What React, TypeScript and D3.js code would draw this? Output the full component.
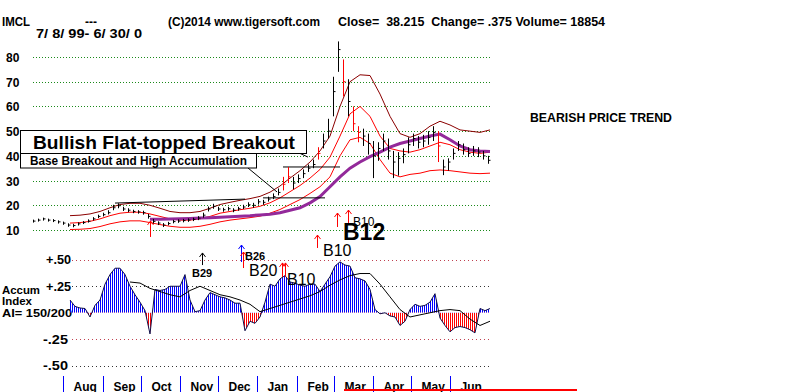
import React from 'react';
import * as d3 from 'd3';

const W = 800;
const H = 392;

// ---------- data ----------
const priceTicks = [10, 20, 30, 40, 50, 60, 70, 80];
const aiTicks = [0.5, 0.25, -0.25, -0.5];
const aiTickLabels = ['+.50', '+.25', '-.25', '-.50'];
const aiTickColors = ['#c04050', '#333333', '#c04050', '#333333'];
const monthNames = ['Aug', 'Sep', 'Oct', 'Nov', 'Dec', 'Jan', 'Feb', 'Mar', 'Apr', 'May', 'Jun'];
const monthStarts = ['1999-08-01', '1999-09-01', '1999-10-01', '1999-11-01', '1999-12-01', '2000-01-01', '2000-02-01', '2000-03-01', '2000-04-01', '2000-05-01', '2000-06-01'];

// price bars (every ~2.5 trading days)
const closes = [
  13.6, 14.0, 14.5, 14.0, 13.8, 13.3, 12.8, 12.0, 11.8, 12.5,
  13.0, 13.6, 14.5, 15.5, 16.2, 17.0, 19.0, 19.8, 18.5, 18.0,
  17.5, 17.3, 17.0, 15.5, 13.5, 12.8, 12.0, 12.6, 13.4, 13.6,
  13.8, 14.0, 14.3, 14.8, 16.0, 18.5, 19.6, 18.5, 18.2, 18.6,
  18.0, 18.6, 19.3, 20.2, 20.0, 21.4, 21.2, 22.5, 23.5, 25.2,
  28.5, 31.5, 29.0, 30.8, 32.8, 35.0, 36.5, 41.0, 46.0, 50.0,
  66.0, 83.0, 70.0, 62.0, 53.0, 49.5, 48.0, 45.0, 40.0, 43.0,
  46.0, 42.0, 37.5, 39.0, 40.5, 44.5, 47.0, 45.5, 46.0, 47.5,
  49.5, 44.0, 35.5, 37.5, 41.0, 44.5, 42.5, 41.0, 42.0, 41.5,
  40.0, 38.2,
];
const highs = [
  14.2, 14.6, 15.0, 14.6, 14.4, 13.9, 13.4, 12.7, 12.5, 13.1,
  13.6, 14.3, 15.2, 16.2, 17.0, 18.0, 20.2, 20.8, 19.4, 18.8,
  18.2, 18.0, 17.8, 16.5, 14.5, 13.5, 12.8, 13.3, 14.1, 14.3,
  14.5, 14.7, 15.0, 15.6, 17.0, 19.5, 20.6, 19.4, 19.0, 19.4,
  18.8, 19.4, 20.2, 21.2, 21.0, 22.5, 22.2, 23.5, 24.8, 26.8,
  31.5, 35.5, 31.5, 32.5, 34.5, 36.5, 38.5, 43.5, 49.0, 55.0,
  72.0, 86.3, 79.0, 71.0, 60.0, 52.0, 51.0, 49.0, 46.0, 45.5,
  49.0, 47.0, 42.0, 41.5, 43.0, 47.5, 49.0, 48.0, 48.5, 50.0,
  52.0, 50.0, 38.5, 39.0, 43.0, 46.0, 45.0, 43.5, 44.0, 43.5,
  42.0, 40.0,
];
const lows = [
  13.0, 13.4, 13.8, 13.4, 13.2, 12.6, 12.1, 11.3, 11.1, 11.8,
  12.4, 13.0, 13.8, 14.8, 15.5, 16.3, 18.0, 18.8, 17.7, 17.2,
  16.8, 16.6, 16.2, 14.6, 12.6, 12.0, 11.2, 11.9, 12.7, 12.9,
  13.1, 13.3, 13.6, 14.0, 15.0, 17.5, 18.6, 17.7, 17.4, 17.8,
  17.2, 17.8, 18.5, 19.3, 19.0, 20.3, 20.2, 21.5, 22.5, 24.0,
  26.0, 29.0, 26.5, 29.0, 31.0, 33.5, 35.0, 38.5, 43.0, 47.0,
  56.0, 74.0, 64.0, 56.0, 50.0, 45.5, 44.0, 40.5, 31.0, 38.0,
  42.0, 38.5, 31.0, 32.0, 37.0, 41.0, 44.0, 43.0, 43.5, 44.5,
  46.0, 37.5, 32.2, 34.0, 38.5, 42.0, 40.5, 39.5, 40.0, 39.5,
  38.5, 36.8,
];
const redBars = [50, 51, 57, 62, 64, 65, 81];

// bands (sampled every ~5 trading days)
const bandUpper = [
  15.8, 16, 16.5, 17.5, 19, 20.3, 20.8, 20.8, 20, 18.8,
  17.5, 17, 17, 17.5, 18.8, 20.3, 21.2, 22, 22.7, 23.6,
  25.3, 27.8, 31, 34, 37.5, 42, 48, 60, 70, 72.8,
  72.5, 65, 56, 49, 47.5, 49, 52, 54, 52.5, 50.5,
  50, 49.5, 50.5,
];
const bandMid = [
  12.8, 13, 13.5, 14.5, 15.8, 16.8, 17.2, 17.2, 16.5, 15.5,
  14.5, 14, 14, 14.5, 15.5, 16.8, 17.5, 18.2, 18.8, 19.6,
  21, 23, 25.5, 28, 31, 34.5, 39.5, 48, 57, 60,
  56, 48, 43, 42, 41.5, 42.5, 44, 45.5, 44.5, 42.5,
  41.5, 41, 41.5,
];
const bandLower = [
  10.2, 10.3, 10.6, 11.4, 12.5, 13.3, 13.7, 13.7, 13, 12.2,
  11.5, 11.1, 11.1, 11.5, 12.3, 13.3, 14, 14.5, 15, 15.6,
  16.8, 18.3, 20.3, 22.3, 24.8, 27.5, 31.5, 40, 46.5, 47.5,
  45, 38.5, 33, 31.5, 32.5, 33, 34, 34.3, 34, 33.5,
  33, 32.8, 33,
];
const ma50 = [
  14.3, 14.4, 14.5, 14.6, 14.7, 14.85, 15, 15.2, 15.4, 15.6,
  15.8, 16.1, 16.4, 17, 18, 19, 21, 23.5, 27.5, 31.5,
  35, 37.5, 39.7, 41.5, 43.5, 45, 46, 47, 48, 48.8,
  46.5, 44, 42.5, 42, 41.8,
];

// accumulation index
const ai = [
  0.12, 0.06, 0.045, 0.04, -0.04, 0.07, 0.12, 0.27, 0.36, 0.42,
  0.42, 0.36, 0.25, 0.17, 0.10, 0.02, -0.20, 0.22, 0.21, 0.22,
  0.25, 0.25, 0.25, 0.36, 0.12, 0.01, 0.02, 0.12, 0.19, 0.17,
  0.15, 0.14, 0.12, 0.09, 0.09, -0.17, -0.08, -0.10, -0.04, 0.10,
  0.27, 0.25, 0.32, 0.35, 0.29, 0.28, 0.26, 0.25, 0.27, 0.27,
  0.20, 0.27, 0.34, 0.44, 0.48, 0.45, 0.44, 0.33, 0.32, 0.30,
  0.22, 0.03, -0.01, 0.00, -0.03, -0.04, -0.12, -0.08, 0.03, 0.08,
  0.06, 0.07, 0.10, 0.18, -0.05, -0.12, -0.18, -0.14, -0.13, -0.14,
  -0.16, -0.19, 0.04, 0.02, 0.04,
];
const aiMA = [
  0.29, 0.28, 0.23, 0.2, 0.17, 0.15, 0.21, 0.25, 0.21, 0.17,
  0.15, 0.12, 0.08, 0.01, 0.04, 0.07, 0.10, 0.13, 0.16, 0.2,
  0.26, 0.31, 0.35, 0.37, 0.37, 0.27, 0.15, 0.03, -0.04, -0.02,
  0.0, 0.02, 0.03, 0.02, -0.06, -0.12, -0.08,
];

// annotations in data units: [barIndex0, price0, barIndex1, price1]
const flatTops = [
  [16.4, 20.9, 42.4, 22.5],
  [50, 35.5, 61.4, 35.5],
  [46, 23, 58.4, 23],
];
// signal arrows: bar index, top / bottom in AI units
const sigArrows = [
  { i: 23.4, top: 0.866, bot: 0.715, c: '#ff0000' },
  { i: 33.8, top: 0.564, bot: 0.45, c: '#000000' },
  { i: 41.6, top: 0.639, bot: 0.479, c: '#0000ff' },
  { i: 41.9, top: 0.573, bot: 0.422, c: '#ff0000' },
  { i: 49.8, top: 0.47, bot: 0.337, c: '#ff0000' },
  { i: 50.4, top: 0.47, bot: 0.337, c: '#ff0000' },
  { i: 56.8, top: 0.733, bot: 0.611, c: '#ff0000' },
  { i: 60.8, top: 0.941, bot: 0.809, c: '#ff0000' },
  { i: 63, top: 0.969, bot: 0.847, c: '#ff0000' },
];
const sigLabels = [
  { t: 'B29', i: 31.8, y: 0.337, size: 11, bold: true },
  { t: 'B26', i: 42.4, y: 0.5, size: 11, bold: true },
  { t: 'B20', i: 43.2, y: 0.345, size: 16, bold: false },
  { t: 'B10', i: 50.8, y: 0.262, size: 16, bold: false },
  { t: 'B10', i: 58, y: 0.535, size: 16, bold: false },
  { t: 'B10', i: 64, y: 0.82, size: 12, bold: false },
  { t: 'B12', i: 62, y: 0.686, size: 23, bold: true },
];

const FONT = "'Liberation Sans', Arial, sans-serif";

export default function App() {
  const xBar = d3.scaleLinear().domain([0, closes.length - 1]).range([33, 488]);
  const xBand = d3.scaleLinear().domain([0, bandMid.length - 1]).range([70, 490]);
  const xMA = d3.scaleLinear().domain([0, ma50.length - 1]).range([150, 490]);
  const xAI = d3.scaleLinear().domain([0, ai.length - 1]).range([70, 490]);
  const xAIMA = d3.scaleLinear().domain([0, aiMA.length - 1]).range([130, 490]);
  const xTime = d3.scaleTime().domain([new Date(1999, 6, 8), new Date(2000, 5, 30)]).range([33, 487]);
  const yP = d3.scaleLinear().domain([10, 80]).range([230, 57]);
  const yA = d3.scaleLinear().domain([-0.5, 0.5]).range([365.75, 259.75]);

  const bandLine = d3.line<number>().x((_, i) => xBand(i)).y((d) => yP(d));
  const maLine = d3.line<number>().x((_, i) => xMA(i)).y((d) => yP(d));
  const aiArea = d3.area<number>().x((_, i) => xAI(i)).y0(yA(0)).y1((d) => yA(d));
  const aiLine = d3.line<number>().x((_, i) => xAI(i)).y((d) => yA(d));
  const aiMALine = d3.line<number>().x((_, i) => xAIMA(i)).y((d) => yA(d));
  const zeroY = yA(0);

  const arrowPath = (x: number, yt: number, yb: number) =>
    `M${x},${yb}L${x},${yt}M${x - 3},${yt + 4}L${x},${yt}L${x + 3},${yt + 4}`;

  return (
    <div style={{ position: 'absolute', left: 0, top: 0, width: W, height: H, background: '#fff' }}>
      <svg width={W} height={H} style={{ display: 'block' }} fontFamily={FONT}>
        <defs>
          <pattern id="blueStripes" width="2" height="4" patternUnits="userSpaceOnUse">
            <rect x="0" y="0" width="1" height="4" fill="#0000ff" />
          </pattern>
          <pattern id="redStripes" width="2" height="4" patternUnits="userSpaceOnUse">
            <rect x="0" y="0" width="1" height="4" fill="#ff0000" />
          </pattern>
          <clipPath id="clipPos">
            <rect x="0" y="0" width={W} height={zeroY} />
          </clipPath>
          <clipPath id="clipNeg">
            <rect x="0" y={zeroY} width={W} height={H - zeroY} />
          </clipPath>
        </defs>
        <rect x="0" y="0" width={W} height={H} fill="#fff" />

        {/* header */}
        <g fontWeight="bold" fontSize="12" fill="#000">
          <text x="2" y="25.5" textLength="28" lengthAdjust="spacingAndGlyphs">IMCL</text>
          <text x="85" y="25.5" textLength="12" lengthAdjust="spacingAndGlyphs">---</text>
          <text x="168" y="25.5" textLength="152" lengthAdjust="spacingAndGlyphs">(C)2014 www.tigersoft.com</text>
          <text x="338" y="25.5" textLength="267" lengthAdjust="spacingAndGlyphs" style={{ whiteSpace: 'pre' }}>
            {'Close=  38.215  Change= .375 Volume= 18854'}
          </text>
          <text x="36" y="38" textLength="106" lengthAdjust="spacingAndGlyphs" style={{ whiteSpace: 'pre' }}>
            {'7/ 8/ 99- 6/ 30/ 0'}
          </text>
          <text x="530" y="121.5" textLength="142" lengthAdjust="spacingAndGlyphs">BEARISH PRICE TREND</text>
        </g>

        {/* price grid */}
        {priceTicks.map((t) => (
          <g key={'pg' + t}>
            <line x1={33} x2={490} y1={Math.round(yP(t)) + 0.5} y2={Math.round(yP(t)) + 0.5}
              stroke="#1a8a1a" strokeDasharray="1 2" />
            <text x="6" y={yP(t) + 5} fontSize="12" fontWeight="bold">{t}</text>
          </g>
        ))}

        {/* bands and moving average */}
        <path d={bandLine(bandUpper) || ''} fill="none" stroke="#8b0000" strokeWidth="1" />
        <path d={bandLine(bandMid) || ''} fill="none" stroke="#ff0000" strokeWidth="1" />
        <path d={bandLine(bandLower) || ''} fill="none" stroke="#ff0000" strokeWidth="1" />
        <path d={maLine(ma50) || ''} fill="none" stroke="#93299a" strokeWidth="3" />

        {/* flat tops */}
        {flatTops.map((f, k) => (
          <line key={'ft' + k} x1={xBar(f[0])} y1={yP(f[1])} x2={xBar(f[2])} y2={yP(f[3])} stroke="#000" strokeWidth="1" />
        ))}

        {/* price bars */}
        {closes.map((c, i) => {
          const col = redBars.includes(i) ? '#ff0000' : '#000';
          const x = Math.round(xBar(i)) + 0.5;
          return (
            <g key={'b' + i} stroke={col} strokeWidth="1">
              <line x1={x} x2={x} y1={yP(lows[i])} y2={yP(highs[i])} />
              <line x1={x} x2={x + 2} y1={yP(c)} y2={yP(c)} />
            </g>
          );
        })}

        {/* annotation boxes */}
        <line x1={297} y1={152} x2={xBar(55)} y2={yP(39.5)} stroke="#000" />
        <line x1={248} y1={168} x2={xBar(48.8)} y2={yP(25.4)} stroke="#000" />
        <rect x={20.5} y={130.5} width={286} height={23} fill="#fff" stroke="#000" />
        <rect x={20.5} y={153.5} width={236} height={14.5} fill="#fff" stroke="#000" />
        <text x="33" y="148.5" fontSize="19" fontWeight="bold" textLength="262" lengthAdjust="spacingAndGlyphs">Bullish Flat-topped Breakout</text>
        <text x="30" y="165" fontSize="12" fontWeight="bold" textLength="217" lengthAdjust="spacingAndGlyphs">Base Breakout and High Accumulation</text>

        {/* AI grid */}
        {aiTicks.map((t, k) => (
          <g key={'ag' + t}>
            <line x1={72} x2={490} y1={Math.round(yA(t)) + 0.5} y2={Math.round(yA(t)) + 0.5}
              stroke={aiTickColors[k]} strokeDasharray="1 3" />
            <text x={t > 0 ? 46 : 43} y={yA(t) + 4.5} fontSize="12" fontWeight="bold" textLength="25" lengthAdjust="spacingAndGlyphs">{aiTickLabels[k]}</text>
          </g>
        ))}
        <g fontSize="11" fontWeight="bold">
          <text x="2" y="293.5" textLength="38" lengthAdjust="spacingAndGlyphs">Accum</text>
          <text x="2" y="305" textLength="30" lengthAdjust="spacingAndGlyphs">Index</text>
          <text x="2" y="316.5" textLength="70" lengthAdjust="spacingAndGlyphs">AI= 150/200</text>
        </g>

        {/* AI histogram */}
        <path d={aiArea(ai) || ''} fill="url(#blueStripes)" clipPath="url(#clipPos)" />
        <path d={aiArea(ai) || ''} fill="url(#redStripes)" clipPath="url(#clipNeg)" />
        <path d={aiLine(ai) || ''} fill="none" stroke="#10104a" strokeWidth="1" />
        <path d={aiMALine(aiMA) || ''} fill="none" stroke="#000" strokeWidth="1" />

        {/* signals */}
        {sigArrows.map((s, k) => (
          <path key={'sa' + k} d={arrowPath(Math.round(xBar(s.i)) + 0.5, yA(s.top), yA(s.bot))}
            fill="none" stroke={s.c} strokeWidth="1" />
        ))}
        {sigLabels.map((s, k) => (
          <text key={'sl' + k} x={xBar(s.i)} y={yA(s.y)} fontSize={s.size}
            fontWeight={s.bold ? 'bold' : 'normal'} fill="#000">{s.t}</text>
        ))}

        {/* month axis */}
        {monthStarts.map((m, k) => {
          const x = Math.round(xTime(new Date(m + 'T00:00:00'))) + 0.5;
          return (
            <g key={'m' + k}>
              <line x1={x} x2={x} y1={376} y2={392} stroke="#0000ff" strokeWidth="1" />
              <text x={x + 10} y={390.5} fontSize="12" fontWeight="bold">{monthNames[k]}</text>
            </g>
          );
        })}
        <line x1={344} x2={577} y1={390} y2={390} stroke="#ff0000" strokeWidth="2" />
      </svg>
    </div>
  );
}
